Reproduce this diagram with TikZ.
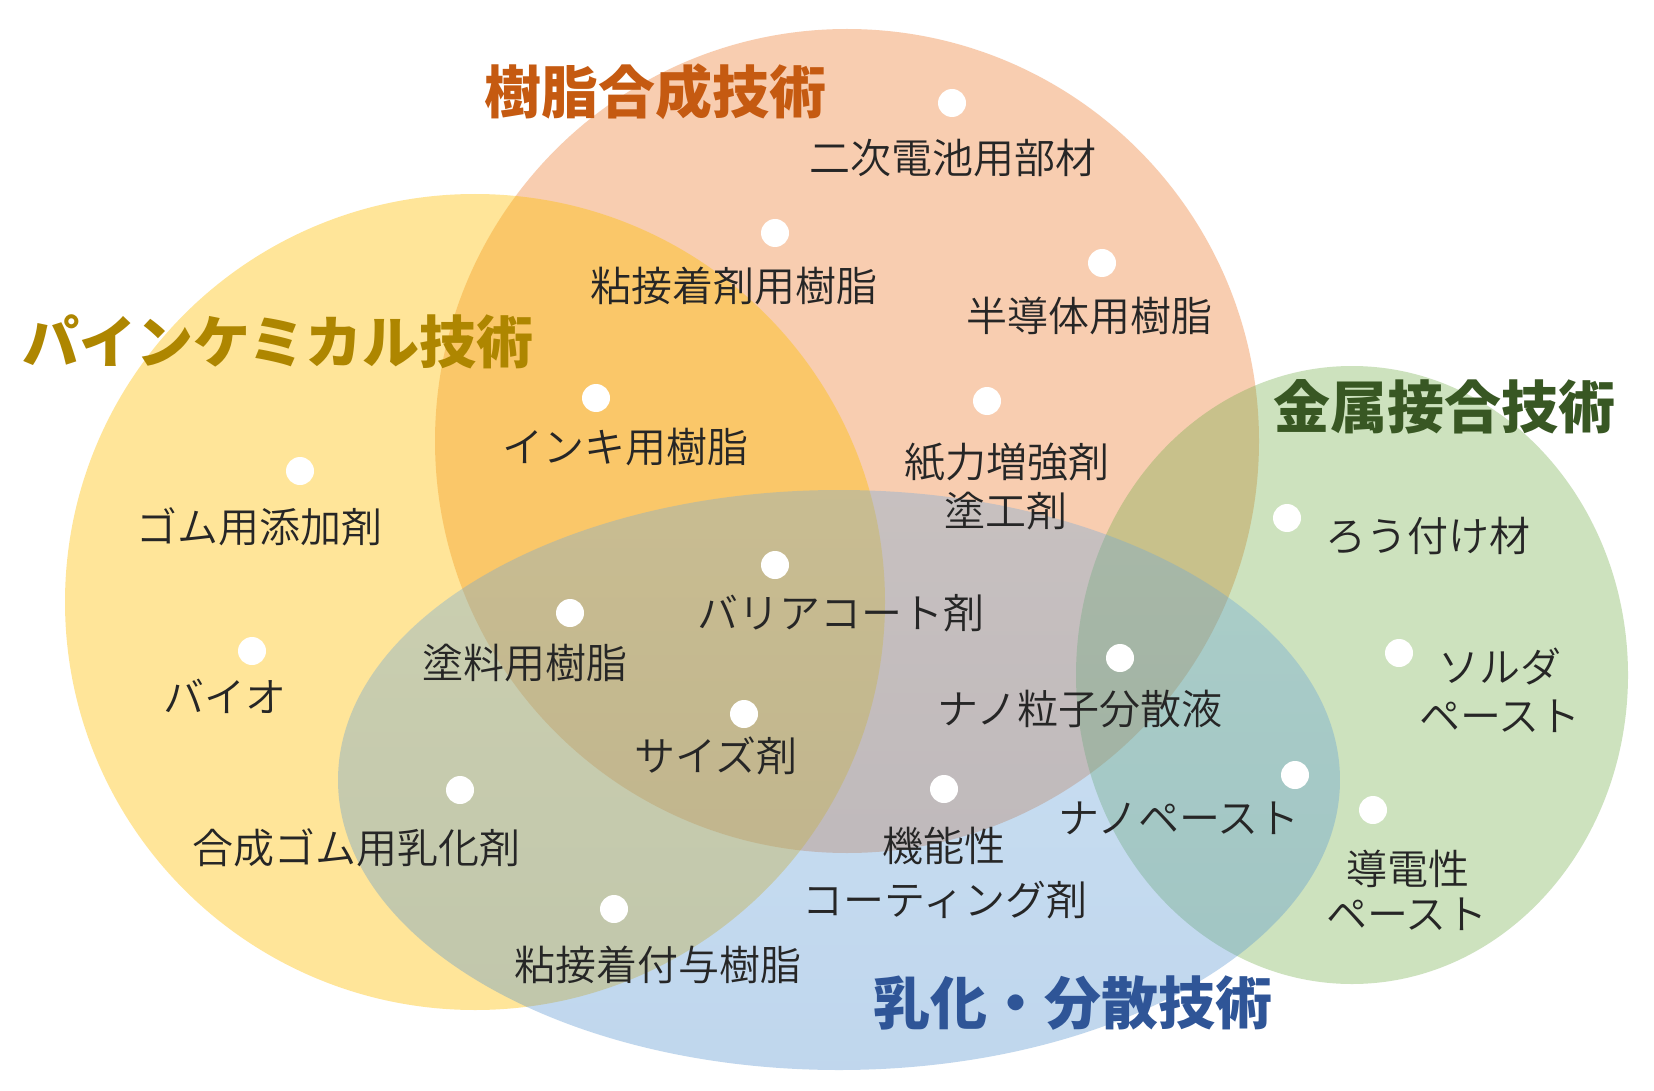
\documentclass[tikz,border=0pt]{standalone}
\usepackage{fontspec}
\newfontfamily\jp{Noto Sans CJK JP}[UprightFont=* DemiLight,BoldFont=* Black]
\definecolor{resinC}{HTML}{ED7D31}
\definecolor{pineC}{HTML}{FFC000}
\definecolor{metalC}{HTML}{70AD47}
\definecolor{emulTop}{RGB}{110,170,222}
\definecolor{emulBot}{RGB}{75,140,205}
\definecolor{textC}{RGB}{38,38,38}
\definecolor{resinT}{HTML}{C55A11}
\definecolor{pineT}{HTML}{AE8600}
\definecolor{metalT}{HTML}{385723}
\definecolor{emulT}{HTML}{2F5597}
\begin{document}
\begin{tikzpicture}[x=1pt,y=-1pt,
  dot/.style={circle,fill=white,draw=none,inner sep=0pt,minimum size=28pt},
  item/.style={font=\jp\fontsize{41}{49}\selectfont,text=textC,inner sep=0pt},
  ttl/.style={font=\jp\bfseries\fontsize{57}{60}\selectfont,inner sep=0pt}]
\useasboundingbox (0,0) rectangle (1654,1091);
\fill[white] (0,0) rectangle (1654,1091);
% sets
\fill[resinC,fill opacity=0.38] (847,441) circle[radius=412];
\fill[pineC,fill opacity=0.40] (475,602) ellipse[x radius=410,y radius=408];
\fill[metalC,fill opacity=0.35] (1352,675) ellipse[x radius=276,y radius=309];
\shade[top color=emulTop,bottom color=emulBot,fill opacity=0.35] (839,780) ellipse[x radius=501,y radius=290];
% titles
\node[ttl,text=resinT] (t1) at (655,92) {樹脂合成技術};
\node[ttl,text=pineT] (t2) at (278,342) {パインケミカル技術};
\node[ttl,text=metalT] (t3) at (1444,407) {金属接合技術};
\node[ttl,text=emulT] (t4) at (1073,1003) {乳化・分散技術};
% dots
\node[dot] (d1) at (952,103) {};
\node[dot] (d2) at (775,233) {};
\node[dot] (d3) at (1102,263) {};
\node[dot] (d4) at (596,398) {};
\node[dot] (d5) at (987,401) {};
\node[dot] (d6) at (300,471) {};
\node[dot] (d7) at (775,565) {};
\node[dot] (d8) at (570,613) {};
\node[dot] (d9) at (1287,518) {};
\node[dot] (d10) at (252,651) {};
\node[dot] (d11) at (1120,658) {};
\node[dot] (d12) at (744,714) {};
\node[dot] (d13) at (1399,653) {};
\node[dot] (d14) at (460,790) {};
\node[dot] (d15) at (944,789) {};
\node[dot] (d16) at (1295,775) {};
\node[dot] (d17) at (1373,810) {};
\node[dot] (d18) at (614,909) {};
% labels
\node[item] (l1) at (953,158) {二次電池用部材};
\node[item] (l2) at (734,286) {粘接着剤用樹脂};
\node[item] (l3) at (1089,316) {半導体用樹脂};
\node[item] (l4) at (625,447) {インキ用樹脂};
\node[item] (l5a) at (1007,462) {紙力増強剤};
\node[item] (l5b) at (1006,511) {塗工剤};
\node[item] (l6) at (259,527) {ゴム用添加剤};
\node[item] (l7) at (841,613) {バリアコート剤};
\node[item] (l8) at (525,663) {塗料用樹脂};
\node[item] (l9) at (1428,536) {ろう付け材};
\node[item] (l10) at (225,696) {バイオ};
\node[item] (l11) at (1080,709) {ナノ粒子分散液};
\node[item] (l12) at (716,756) {サイズ剤};
\node[item] (l13a) at (1500,667) {ソルダ};
\node[item] (l13b) at (1500,716) {ペースト};
\node[item] (l14) at (356,848) {合成ゴム用乳化剤};
\node[item] (l15a) at (944,846) {機能性};
\node[item] (l15b) at (945,900) {コーティング剤};
\node[item] (l16) at (1179,818) {ナノペースト};
\node[item] (l17a) at (1408,869) {導電性};
\node[item] (l17b) at (1407,914) {ペースト};
\node[item] (l18) at (658,965) {粘接着付与樹脂};
\end{tikzpicture}
\end{document}
